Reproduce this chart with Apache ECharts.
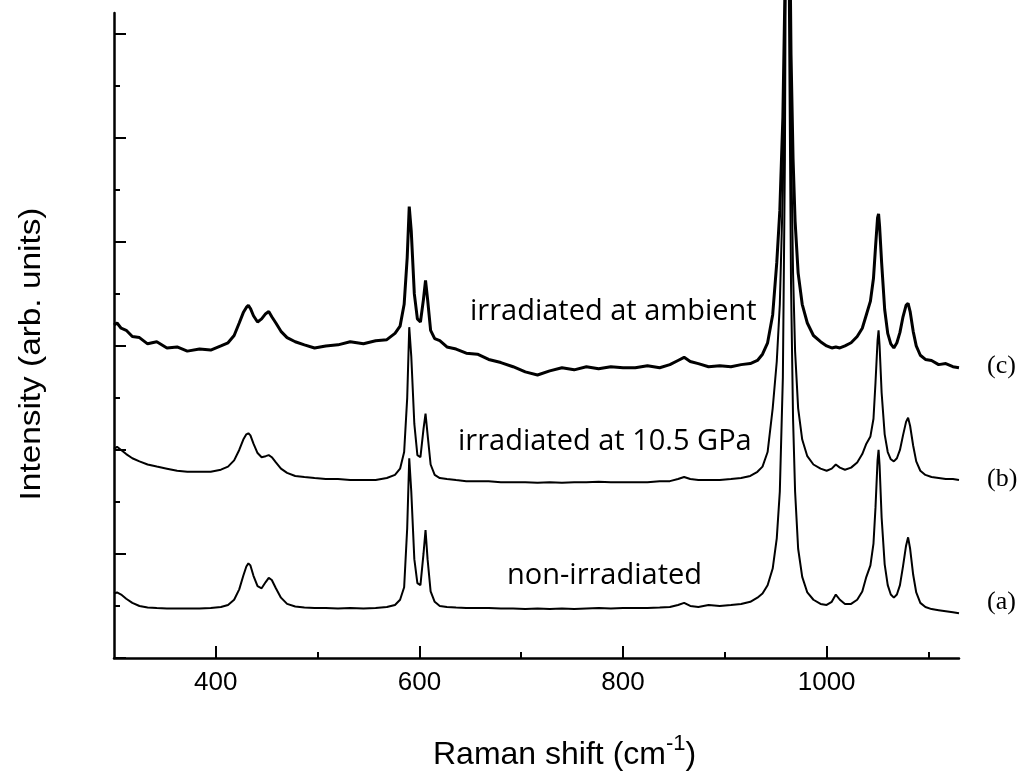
<!DOCTYPE html>
<html>
<head>
<meta charset="utf-8">
<script src="https://cdn.jsdelivr.net/npm/echarts@6/dist/echarts.min.js"></script>
<style>
html,body{margin:0;padding:0;background:#fff;}
#chart{width:1023px;height:773px;}
</style>
</head>
<body>
<div id="chart"></div>
<script>
// Raman shift (cm^-1), shared by the three spectra
const wavenumber = [
  300, 303, 307, 312, 318, 325, 333, 342, 352, 362,
  372, 384, 395, 405, 412, 418, 423, 427, 430, 432,
  434, 437, 441, 445, 449, 452, 455, 459, 464, 470,
  478, 487, 497, 508, 520, 532, 545, 557, 568, 576,
  581, 585, 588, 590, 592, 595, 598, 601, 604, 606,
  608, 611, 615, 620, 627, 636, 646, 657, 668, 680,
  692, 704, 716, 728, 740, 752, 764, 776, 788, 800,
  812, 824, 836, 846, 854, 860, 866, 874, 884, 895,
  906, 916, 925, 932, 937, 942, 947, 951, 954, 957,
  959, 961, 963, 965, 967, 969, 972, 976, 981, 987,
  994, 1000, 1005, 1009, 1013, 1018, 1024, 1030, 1035, 1039,
  1043, 1046, 1048, 1050, 1051, 1052, 1054, 1057, 1060, 1063,
  1066, 1069, 1072, 1075, 1078, 1080, 1082, 1085, 1088, 1092,
  1097, 1103, 1110, 1117, 1124, 1130
];

// (a) non-irradiated
const nonIrradiated = [
  6.2, 6.3, 6.1, 5.7, 5.3, 5.0, 4.85, 4.8, 4.75, 4.75,
  4.75, 4.75, 4.8, 4.9, 5.1, 5.6, 6.6, 7.9, 8.8, 9.1,
  8.9, 7.9, 6.9, 6.7, 7.3, 7.7, 7.5, 6.7, 5.8, 5.2,
  4.95, 4.85, 4.8, 4.8, 4.75, 4.8, 4.75, 4.8, 4.9, 5.1,
  5.6, 6.8, 12.5, 19.2, 16.0, 9.5, 7.2, 7.0, 10.0, 12.3,
  9.5, 6.4, 5.4, 5.0, 4.9, 4.85, 4.8, 4.8, 4.8, 4.75,
  4.75, 4.7, 4.75, 4.7, 4.75, 4.7, 4.75, 4.8, 4.75, 4.8,
  4.8, 4.8, 4.85, 4.9, 5.1, 5.3, 5.0, 4.9, 5.1, 5.0,
  5.1, 5.2, 5.4, 5.8, 6.2, 7.0, 8.6, 11.5, 16, 27,
  48, 95, 62, 36, 23, 16, 10.5, 7.8, 6.3, 5.6,
  5.2, 5.1, 5.4, 6.1, 5.6, 5.2, 5.2, 5.6, 6.4, 7.8,
  8.9, 11.0, 14.5, 19.0, 20.0, 18.5, 13.5, 9.0, 7.0, 6.1,
  5.8, 6.1, 7.0, 8.8, 10.8, 11.6, 10.5, 8.0, 6.3, 5.3,
  4.9, 4.7, 4.6, 4.5, 4.4, 4.3
];

// (b) irradiated at 10.5 GPa
const irradiated105GPa = [
  20.1, 20.3, 20.0, 19.6, 19.2, 18.9, 18.6, 18.4, 18.2, 18.0,
  17.9, 17.9, 17.9, 18.1, 18.4, 19.0, 20.0, 21.0, 21.5, 21.6,
  21.4, 20.6, 19.7, 19.3, 19.4, 19.5, 19.3, 18.8, 18.2, 17.8,
  17.5, 17.4, 17.3, 17.2, 17.2, 17.1, 17.1, 17.1, 17.3, 17.6,
  18.2, 19.8, 25.0, 31.8, 29.0, 22.5, 19.5, 19.3, 22.0, 23.5,
  21.5, 18.6, 17.6, 17.3, 17.2, 17.1, 17.0, 17.0, 17.0, 16.9,
  16.9, 16.9, 16.85, 16.9, 16.85, 16.9, 16.9, 16.95, 16.9, 16.9,
  16.9, 16.9, 17.0, 17.0, 17.2, 17.4, 17.2, 17.1, 17.1, 17.1,
  17.2, 17.3, 17.5, 17.9, 18.4, 19.8, 24.0, 28.5, 34, 45,
  62, 105, 75, 50, 37, 29.5, 24, 21, 19.4, 18.6,
  18.2, 18.0, 18.2, 18.6, 18.3, 18.1, 18.3, 18.8, 19.6, 20.6,
  21.3, 23.0, 26.5, 30.5, 31.5, 30.0, 25.5, 21.5, 19.8, 19.1,
  18.9, 19.2, 20.0, 21.4, 22.7, 23.1, 22.3, 20.4, 18.9, 18.0,
  17.6, 17.4, 17.3, 17.2, 17.2, 17.1
];

// (c) irradiated at ambient
const irradiatedAmbient = [
  32.0, 32.2, 31.7, 31.5, 30.9, 30.8, 30.2, 30.4, 29.8, 29.9,
  29.5, 29.7, 29.6, 30.0, 30.3, 31.0, 32.2, 33.2, 33.7, 33.9,
  33.6, 32.9, 32.3, 32.6, 33.1, 33.3, 32.8, 32.2, 31.4, 30.8,
  30.4, 30.1, 29.8, 30.0, 30.1, 30.4, 30.2, 30.5, 30.6, 31.2,
  31.9, 34.0, 38.5, 43.4, 41.0, 35.0, 32.6, 32.3, 34.5, 36.3,
  34.5, 31.5, 30.7, 30.5, 29.9, 29.7, 29.3, 29.2, 28.7, 28.4,
  28.0, 27.5, 27.2, 27.6, 27.9, 27.7, 28.0, 27.8, 28.0, 27.9,
  27.9, 28.1, 27.9, 28.2, 28.6, 28.9, 28.5, 28.3, 28.0, 28.1,
  28.0, 28.2, 28.3, 28.6, 29.2, 30.3, 33.0, 38.0, 43.0, 52,
  64, 110, 78, 58, 48, 42, 37, 34, 32.2, 31.0,
  30.4, 30.0, 29.8, 29.9, 29.8, 30.0, 30.3, 30.9, 31.7, 33.0,
  34.3, 36.5, 39.5, 42.3, 42.7, 41.5, 38.0, 33.5, 31.2, 30.2,
  29.8, 30.3, 31.3, 32.8, 33.9, 34.1, 33.3, 31.4, 30.0, 29.1,
  28.7, 28.6, 28.2, 28.3, 28.0, 27.9
];

const xMajorTicks = [400, 600, 800, 1000];
const xMinorTicks = [500, 700, 900, 1100];
const yMajorTicks = [0, 10, 20, 30, 40, 50, 60];
const yMinorTicks = [5, 15, 25, 35, 45, 55];
const spectrumNames = ['non-irradiated', 'irradiated at 10.5 GPa', 'irradiated at ambient'];
const spectrumTags = ['(a)', '(b)', '(c)'];

const spectra = [nonIrradiated, irradiated105GPa, irradiatedAmbient];
const lineWidths = [2, 2, 3];

const chart = echarts.init(document.getElementById('chart'), null, {renderer: 'canvas'});

const axisCommon = {
  type: 'value',
  splitLine: {show: false},
  minorSplitLine: {show: false}
};

const option = {
  backgroundColor: '#ffffff',
  animation: false,
  grid: {left: 114, right: 64, top: 13, bottom: 115, containLabel: false},
  xAxis: [
    Object.assign({}, axisCommon, {
      min: 300, max: 1130, position: 'bottom',
      axisLine: {show: true, onZero: false, lineStyle: {color: '#000', width: 2.5}},
      axisTick: {show: true, inside: true, length: 12, customValues: xMajorTicks, lineStyle: {color: '#000', width: 2}},
      axisLabel: {show: true, customValues: xMajorTicks, margin: 12, color: '#000',
        formatter: function (v) { return String(v); },
        fontFamily: 'Liberation Sans, Arial, sans-serif', fontSize: 26}
    }),
    Object.assign({}, axisCommon, {
      min: 300, max: 1130, position: 'bottom', offset: 0,
      axisLine: {show: false, onZero: false},
      axisTick: {show: true, inside: true, length: 6, customValues: xMinorTicks, lineStyle: {color: '#000', width: 2}},
      axisLabel: {show: false}
    })
  ],
  yAxis: [
    Object.assign({}, axisCommon, {
      min: 0, max: 62, position: 'left',
      axisLine: {show: true, onZero: false, lineStyle: {color: '#000', width: 2.5}},
      axisTick: {show: true, inside: true, length: 12, customValues: yMajorTicks, lineStyle: {color: '#000', width: 2}},
      axisLabel: {show: false}
    }),
    Object.assign({}, axisCommon, {
      min: 0, max: 62, position: 'left', offset: 0,
      axisLine: {show: false, onZero: false},
      axisTick: {show: true, inside: true, length: 6, customValues: yMinorTicks, lineStyle: {color: '#000', width: 2}},
      axisLabel: {show: false}
    })
  ],
  series: spectra.map(function (vals, k) {
    return {
      name: spectrumNames[k],
      type: 'line',
      xAxisIndex: 0,
      yAxisIndex: 0,
      showSymbol: false,
      symbol: 'none',
      clip: false,
      smooth: false,
      lineStyle: {color: '#000', width: lineWidths[k]},
      data: wavenumber.map(function (w, i) { return [w, vals[i]]; })
    };
  }),
  graphic: [
    // axis titles
    {
      type: 'text', left: 433, top: 733,
      style: {
        text: '{a|Raman shift (cm}{s|-1}{a|)}',
        fill: '#000',
        rich: {
          a: {fontFamily: 'Liberation Sans, Arial, sans-serif', fontSize: 32, lineHeight: 44, fill: '#000'},
          s: {fontFamily: 'Liberation Sans, Arial, sans-serif', fontSize: 22, lineHeight: 12, verticalAlign: 'top', fill: '#000'}
        }
      }
    },
    {
      type: 'text', x: 32, y: 354, rotation: Math.PI / 2, scaleX: 1.15,
      style: {
        text: 'Intensity (arb. units)', fill: '#000',
        fontFamily: 'Liberation Sans, Arial, sans-serif', fontSize: 29,
        align: 'center', verticalAlign: 'middle'
      }
    },
    // spectrum annotations
    {type: 'text', x: 470, y: 311.5, style: {text: spectrumNames[2], fill: '#000', fontFamily: 'Open Sans, Noto Sans, sans-serif', fontSize: 29, align: 'left', verticalAlign: 'middle'}},
    {type: 'text', x: 458, y: 441.5, style: {text: spectrumNames[1], fill: '#000', fontFamily: 'Open Sans, Noto Sans, sans-serif', fontSize: 29, align: 'left', verticalAlign: 'middle'}},
    {type: 'text', x: 507, y: 576, style: {text: spectrumNames[0], fill: '#000', fontFamily: 'Open Sans, Noto Sans, sans-serif', fontSize: 29, align: 'left', verticalAlign: 'middle'}},
    {type: 'text', x: 987, y: 366, style: {text: spectrumTags[2], fill: '#000', fontFamily: 'Liberation Serif, Times New Roman, serif', fontSize: 26, align: 'left', verticalAlign: 'middle'}},
    {type: 'text', x: 987, y: 479, style: {text: spectrumTags[1], fill: '#000', fontFamily: 'Liberation Serif, Times New Roman, serif', fontSize: 26, align: 'left', verticalAlign: 'middle'}},
    {type: 'text', x: 987, y: 602, style: {text: spectrumTags[0], fill: '#000', fontFamily: 'Liberation Serif, Times New Roman, serif', fontSize: 26, align: 'left', verticalAlign: 'middle'}}
  ]
};

chart.setOption(option);
</script>
</body>
</html>
